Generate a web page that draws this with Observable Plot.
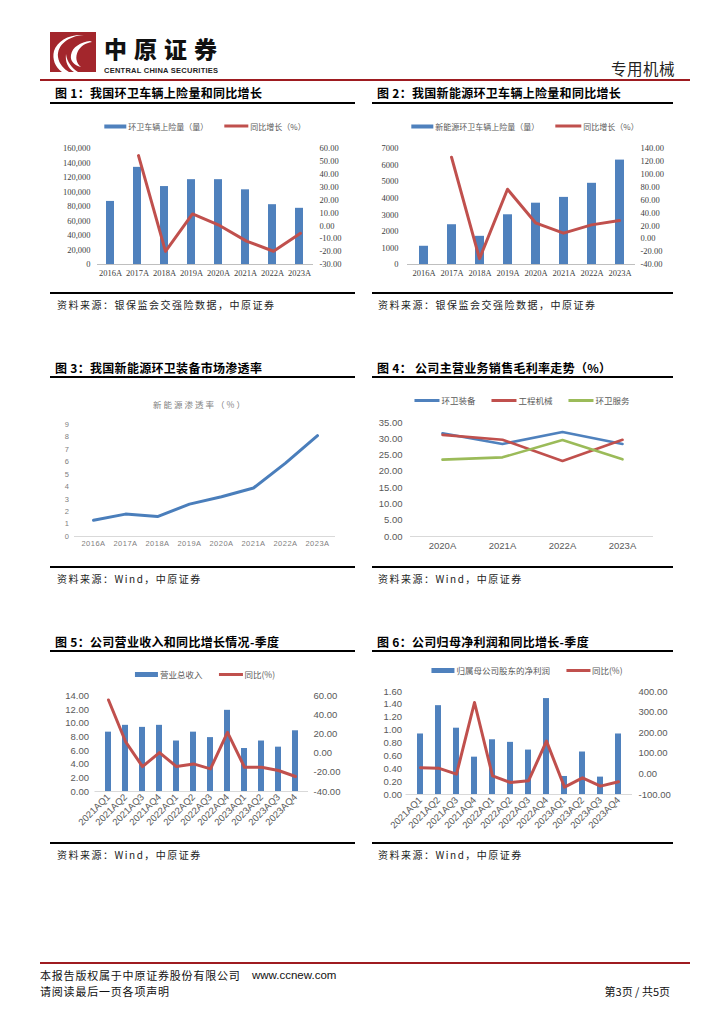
<!DOCTYPE html>
<html><head><meta charset="utf-8">
<script src="https://cdn.jsdelivr.net/npm/d3@7"></script>
<script src="https://cdn.jsdelivr.net/npm/@observablehq/plot@0.6"></script>
<style>
body{margin:0;background:#fff;}
#page{position:relative;width:724px;height:1024px;overflow:hidden;font-family:"Noto Sans CJK SC",sans-serif;color:#000;background:#fff;}
.abs{position:absolute;white-space:nowrap;}
.bar{position:absolute;}
.plot{position:absolute;}
.plot svg{display:block;max-width:none;}
.legend{position:absolute;display:flex;align-items:center;transform:translate(-50%,-50%);white-space:nowrap;color:#595959;}
.legend .it{display:flex;align-items:center;margin:0 8px;}
.legend .sw{display:inline-block;margin-right:2px;}
</style></head>
<body><div id="page"></div>
<script>
// ---------------- data ----------------
const years = ["2016A","2017A","2018A","2019A","2020A","2021A","2022A","2023A"];
const sanitationVehicles = [87000,134000,107500,117000,117000,103000,82500,77500];
const sanitationYoY = [null,54.5,-19.8,9.2,0.3,-11.9,-19.7,-5.8];
const nevVehicles = [1100,2400,1700,3000,3700,4050,4900,6300];
const nevYoY = [null,126.5,-31.0,76.8,24.7,8.6,21.5,28.2];
const penetration = [1.3,1.8,1.6,2.6,3.2,3.9,5.9,8.1];
const marginYears = ["2020A","2021A","2022A","2023A"];
const equipMargin = [31.7,28.4,32.1,28.4];
const machineryMargin = [31.2,29.7,23.2,29.7];
const serviceMargin = [23.6,24.3,29.6,23.7];
const quarters = ["2021AQ1","2021AQ2","2021AQ3","2021AQ4","2022AQ1","2022AQ2","2022AQ3","2022AQ4","2023AQ1","2023AQ2","2023AQ3","2023AQ4"];
const revenue = [8.7,9.7,9.4,9.7,7.4,8.7,7.9,11.9,6.3,7.4,6.5,8.9];
const revenueYoY = [55.8,12.3,-13.9,0.8,-13.9,-11.1,-16.3,22.0,-14.6,-14.6,-18.0,-24.3];
const netProfit = [0.94,1.38,1.03,0.58,0.85,0.81,0.69,1.49,0.28,0.66,0.27,0.94];
const profitYoY = [29.5,27.9,-1.2,346.6,-9.4,-41.7,-33.6,158.9,-64.4,-19.1,-59.5,-38.5];

const ticks1L = [0,20000,40000,60000,80000,100000,120000,140000,160000];
const ticks1R = [-30,-20,-10,0,10,20,30,40,50,60];
const ticks2L = [0,1000,2000,3000,4000,5000,6000,7000];
const ticks2R = [-40,-20,0,20,40,60,80,100,120,140];
const ticks3 = [0,1,2,3,4,5,6,7,8,9];
const ticks4 = [0,5,10,15,20,25,30,35];
const ticks5L = [0,2,4,6,8,10,12,14];
const ticks5R = [-40,-20,0,20,40,60];
const ticks6L = [0,0.2,0.4,0.6,0.8,1.0,1.2,1.4,1.6];
const ticks6R = [-100,0,100,200,300,400];

const BLUE = "#4F81BD", RED = "#C0504D", GREEN = "#9BBB59";

// ---------------- helpers ----------------
const page = document.getElementById("page");
function text(t, x, yc, size, opts = {}) {
  const d = document.createElement("div");
  d.className = "abs";
  d.textContent = t;
  const h = opts.lh || Math.round(size * 1.4);
  d.style.fontSize = size + "px";
  d.style.lineHeight = h + "px";
  d.style.height = h + "px";
  d.style.top = (yc - h / 2) + "px";
  if (opts.right != null) d.style.right = opts.right + "px"; else d.style.left = x + "px";
  if (opts.center) { d.style.transform = "translateX(-50%)"; }
  Object.assign(d.style, opts.style || {});
  page.appendChild(d);
  return d;
}
function rect(x, y, w, h, color) {
  const d = document.createElement("div");
  d.className = "bar";
  Object.assign(d.style, {left: x + "px", top: y + "px", width: w + "px", height: h + "px", background: color});
  page.appendChild(d);
}
function legend(items, cx, cy, size) {
  const d = document.createElement("div");
  d.className = "legend";
  d.style.left = cx + "px"; d.style.top = cy + "px"; d.style.fontSize = size + "px";
  for (const it of items) {
    const s = document.createElement("span"); s.className = "it";
    const sw = document.createElement("span"); sw.className = "sw";
    sw.style.width = (it.w || 23) + "px"; sw.style.height = (it.h || 4) + "px"; sw.style.background = it.color;
    const l = document.createElement("span"); l.textContent = it.label;
    s.appendChild(sw); s.appendChild(l); d.appendChild(s);
  }
  page.appendChild(d);
}
function mount(svg, left, top) {
  const d = document.createElement("div");
  d.className = "plot"; d.style.left = left + "px"; d.style.top = top + "px";
  d.appendChild(svg); page.appendChild(d);
}
const fx2 = d => d.toFixed(2);

// ---------------- header ----------------
const logo = document.createElement("div");
logo.className = "abs"; logo.style.left = "50px"; logo.style.top = "32px";
logo.innerHTML = '<svg width="46" height="40" viewBox="0 0 46 40"><rect width="46" height="40" fill="#A3262C"/>' +
  '<path d="M34 3 C18 4 7 13 8 25 C9 32 14 37 19 40 L12 40 C5 35 2 27 4 19 C7 9 19 2 34 3 Z" fill="#fff"/>' +
  '<path d="M40 9 C31 10 22 15 21 23 C20 29 24 33 31 35 C26 31 25 25 28 19 C31 14 35 11 42 10 Z" fill="#fff"/>' +
  '<path d="M16 22 C17 30 22 36 28 40 L24 40 C18 36 15 30 16 22 Z" fill="#fff"/></svg>';
page.appendChild(logo);
text("中原证券", 104, 47.5, 23, {lh: 24, style: {fontWeight: 900, letterSpacing: "7px", color: "#111"}});
text("CENTRAL CHINA SECURITIES", 104, 70, 7.5, {lh: 9, style: {fontFamily: "Liberation Sans", fontWeight: 700, letterSpacing: "0.25px", color: "#222"}});
text("专用机械", null, 68, 15.5, {right: 49, style: {color: "#222", letterSpacing: "0.5px"}});
rect(40, 79, 650, 2, "#9E1B20");

// ---------------- section titles / rules / sources ----------------
const tstyle = {fontWeight: 700, color: "#000", letterSpacing: "0.3px"};
text("图 1：我国环卫车辆上险量和同比增长", 55, 92, 12, {style: tstyle});
text("图 2：我国新能源环卫车辆上险量和同比增长", 377, 92, 12, {style: tstyle});
rect(50, 102, 305, 2, "#000"); rect(372, 102, 301, 2, "#000");
rect(50, 292, 305, 2, "#000"); rect(372, 292, 301, 2, "#000");
const sstyle = {letterSpacing: "1.5px", color: "#222"};
text("资料来源：银保监会交强险数据，中原证券", 57, 305, 10, {style: sstyle});
text("资料来源：银保监会交强险数据，中原证券", 378, 305, 10, {style: sstyle});

text("图 3：我国新能源环卫装备市场渗透率", 55, 367, 12, {style: tstyle});
text("图 4：  公司主营业务销售毛利率走势（%）", 377, 367, 12, {style: tstyle});
rect(50, 376, 305, 2, "#000"); rect(372, 376, 301, 2, "#000");
rect(50, 566, 305, 2, "#000"); rect(372, 566, 301, 2, "#000");
text("资料来源：Wind，中原证券", 57, 579, 10, {style: sstyle});
text("资料来源：Wind，中原证券", 378, 579, 10, {style: sstyle});

text("图 5：公司营业收入和同比增长情况-季度", 55, 641, 12, {style: tstyle});
text("图 6：公司归母净利润和同比增长-季度", 377, 641, 12, {style: tstyle});
rect(50, 650, 305, 2, "#000"); rect(372, 650, 301, 2, "#000");
rect(50, 842, 305, 2, "#000"); rect(372, 842, 301, 2, "#000");
text("资料来源：Wind，中原证券", 57, 855, 10, {style: sstyle});
text("资料来源：Wind，中原证券", 378, 855, 10, {style: sstyle});

// ---------------- footer ----------------
rect(40, 962, 650, 2, "#9E1B20");
text("本报告版权属于中原证券股份有限公司", 40, 975, 11, {style: {letterSpacing: "0.8px", color: "#111"}});
text("www.ccnew.com", 252, 975, 11.5, {style: {fontFamily: "Liberation Sans", color: "#111"}});
text("请阅读最后一页各项声明", 40, 991, 11, {style: {letterSpacing: "0.8px", color: "#111"}});
text("第3页 / 共5页", null, 991, 11, {right: 54, style: {color: "#111"}});

// ---------------- chart 1 ----------------
const c1 = years.map((y, i) => ({year: y, count: sanitationVehicles[i], yoy: sanitationYoY[i]}));
const st12 = {background: "transparent", fontFamily: "Liberation Serif", fontSize: "8.5px", color: "#404040", overflow: "visible"};
const box1 = {width: 320, height: 150, marginLeft: 57, marginRight: 47, marginTop: 13, marginBottom: 21};
legend([{label: "环卫车辆上险量（量）", color: BLUE, w: 22, h: 4}, {label: "同比增长（%）", color: RED, w: 24, h: 3}], 205, 126, 8);
mount(Plot.plot({...box1, style: st12,
  x: {type: "band", domain: years, paddingInner: 0.7, paddingOuter: 0.35, label: null, tickSize: 0, tickPadding: 5},
  y: {domain: [0, 160000], ticks: ticks1L, tickFormat: d => d.toLocaleString("en-US"), label: null, tickSize: 0, tickPadding: 7},
  marks: [Plot.barY(c1, {x: "year", y: "count", fill: BLUE}), Plot.ruleY([0], {stroke: "#bfbfbf"})]
}), 40, 135);
mount(Plot.plot({...box1, style: st12,
  x: {type: "point", domain: years, padding: 0.5, axis: null},
  y: {domain: [-30, 60], axis: "right", ticks: ticks1R, tickFormat: fx2, label: null, tickSize: 0, tickPadding: 6},
  marks: [Plot.lineY(c1.filter(d => d.yoy != null), {x: "year", y: "yoy", stroke: RED, strokeWidth: 3, strokeLinejoin: "round"})]
}), 40, 135);

// ---------------- chart 2 ----------------
const c2 = years.map((y, i) => ({year: y, count: nevVehicles[i], yoy: nevYoY[i]}));
const box2 = {width: 320, height: 150, marginLeft: 37, marginRight: 55, marginTop: 13, marginBottom: 21};
legend([{label: "新能源环卫车辆上险量（量）", color: BLUE, w: 22, h: 4}, {label: "同比增长（%）", color: RED, w: 26, h: 3}], 525, 126, 8);
mount(Plot.plot({...box2, style: st12,
  x: {type: "band", domain: years, paddingInner: 0.69, paddingOuter: 0.345, label: null, tickSize: 0, tickPadding: 5},
  y: {domain: [0, 7000], ticks: ticks2L, tickFormat: d => String(d), label: null, tickSize: 0, tickPadding: 9},
  marks: [Plot.barY(c2, {x: "year", y: "count", fill: BLUE}), Plot.ruleY([0], {stroke: "#bfbfbf"})]
}), 370, 135);
mount(Plot.plot({...box2, style: st12,
  x: {type: "point", domain: years, padding: 0.5, axis: null},
  y: {domain: [-40, 140], axis: "right", ticks: ticks2R, tickFormat: fx2, label: null, tickSize: 0, tickPadding: 5},
  marks: [Plot.lineY(c2.filter(d => d.yoy != null), {x: "year", y: "yoy", stroke: RED, strokeWidth: 3, strokeLinejoin: "round"})]
}), 370, 135);

// ---------------- chart 3 ----------------
const c3 = years.map((y, i) => ({year: y, rate: penetration[i]}));
text("新能源渗透率（%）", 200, 404, 8.5, {center: true, style: {color: "#7f7f7f", letterSpacing: "2px"}});
mount(Plot.plot({width: 320, height: 145, marginLeft: 34, marginRight: 25, marginTop: 14, marginBottom: 19,
  style: {background: "transparent", fontFamily: "Liberation Sans", fontSize: "7.5px", color: "#808080", overflow: "visible", letterSpacing: "0.5px"},
  x: {type: "point", domain: years, padding: 0.5, label: null, tickSize: 0, tickPadding: 4},
  y: {domain: [0, 9], ticks: ticks3, tickFormat: d => String(d), label: null, tickSize: 0, tickPadding: 5},
  marks: [Plot.ruleY([0], {stroke: "#d9d9d9"}),
    Plot.lineY(c3, {x: "year", y: "rate", stroke: "#4A7EBB", strokeWidth: 3, strokeLinejoin: "round", strokeLinecap: "round"})]
}), 40, 410);

// ---------------- chart 4 ----------------
const c4 = [];
marginYears.forEach((y, i) => {
  c4.push({year: y, series: "环卫装备", v: equipMargin[i]});
  c4.push({year: y, series: "工程机械", v: machineryMargin[i]});
  c4.push({year: y, series: "环卫服务", v: serviceMargin[i]});
});
legend([{label: "环卫装备", color: BLUE, w: 25, h: 3}, {label: "工程机械", color: RED, w: 25, h: 3}, {label: "环卫服务", color: GREEN, w: 25, h: 3}], 522, 400, 8.5);
mount(Plot.plot({width: 320, height: 145, marginLeft: 40, marginRight: 37, marginTop: 12, marginBottom: 19,
  style: {background: "transparent", fontFamily: "Liberation Sans", fontSize: "9.5px", color: "#595959", overflow: "visible"},
  x: {type: "point", domain: marginYears, padding: 0.5, label: null, tickSize: 0, tickPadding: 6},
  y: {domain: [0, 35], ticks: ticks4, tickFormat: fx2, label: null, tickSize: 0, tickPadding: 8},
  color: {domain: ["环卫装备", "工程机械", "环卫服务"], range: [BLUE, RED, GREEN]},
  marks: [Plot.ruleY([0], {stroke: "#d9d9d9"}),
    Plot.lineY(c4, {x: "year", y: "v", z: "series", stroke: "series", strokeWidth: 2.6, strokeLinejoin: "round", strokeLinecap: "round"})]
}), 370, 410);

// ---------------- chart 5 ----------------
const c5 = quarters.map((q, i) => ({q, rev: revenue[i], yoy: revenueYoY[i]}));
const st56 = {background: "transparent", fontFamily: "Liberation Sans", fontSize: "9.5px", color: "#595959", overflow: "visible"};
const box5 = {width: 320, height: 155, marginLeft: 54.5, marginRight: 52, marginTop: 10.5, marginBottom: 49};
legend([{label: "营业总收入", color: BLUE, w: 23, h: 5}, {label: "同比(%)", color: RED, w: 24, h: 3}], 205, 674, 8.5);
mount(Plot.plot({...box5, style: st56,
  x: {type: "band", domain: quarters, paddingInner: 0.66, paddingOuter: 0.33, label: null, tickSize: 0, tickPadding: 4, tickRotate: -45},
  y: {domain: [0, 14], ticks: ticks5L, tickFormat: fx2, label: null, tickSize: 0, tickPadding: 6},
  marks: [Plot.barY(c5, {x: "q", y: "rev", fill: BLUE}), Plot.ruleY([0], {stroke: "#d9d9d9"})]
}), 40, 685);
mount(Plot.plot({...box5, style: st56,
  x: {type: "point", domain: quarters, padding: 0.5, axis: null},
  y: {domain: [-40, 60], axis: "right", ticks: ticks5R, tickFormat: fx2, label: null, tickSize: 0, tickPadding: 5},
  marks: [Plot.lineY(c5, {x: "q", y: "yoy", stroke: RED, strokeWidth: 3, strokeLinejoin: "round"})]
}), 40, 685);

// ---------------- chart 6 ----------------
const c6 = quarters.map((q, i) => ({q, np: netProfit[i], yoy: profitYoY[i]}));
const box6 = {width: 320, height: 159, marginLeft: 35.5, marginRight: 58, marginTop: 10, marginBottom: 46};
legend([{label: "归属母公司股东的净利润", color: BLUE, w: 23, h: 5}, {label: "同比(%)", color: RED, w: 24, h: 3}], 527, 670, 8.5);
mount(Plot.plot({...box6, style: st56,
  x: {type: "band", domain: quarters, paddingInner: 0.68, paddingOuter: 0.34, label: null, tickSize: 0, tickPadding: 4, tickRotate: -45},
  y: {domain: [0, 1.6], ticks: ticks6L, tickFormat: fx2, label: null, tickSize: 0, tickPadding: 4},
  marks: [Plot.barY(c6, {x: "q", y: "np", fill: BLUE}), Plot.ruleY([0], {stroke: "#d9d9d9"})]
}), 370, 681);
mount(Plot.plot({...box6, style: st56,
  x: {type: "point", domain: quarters, padding: 0.5, axis: null},
  y: {domain: [-100, 400], axis: "right", ticks: ticks6R, tickFormat: fx2, label: null, tickSize: 0, tickPadding: 6},
  marks: [Plot.lineY(c6, {x: "q", y: "yoy", stroke: RED, strokeWidth: 3, strokeLinejoin: "round"})]
}), 370, 681);
</script>
</body></html>
